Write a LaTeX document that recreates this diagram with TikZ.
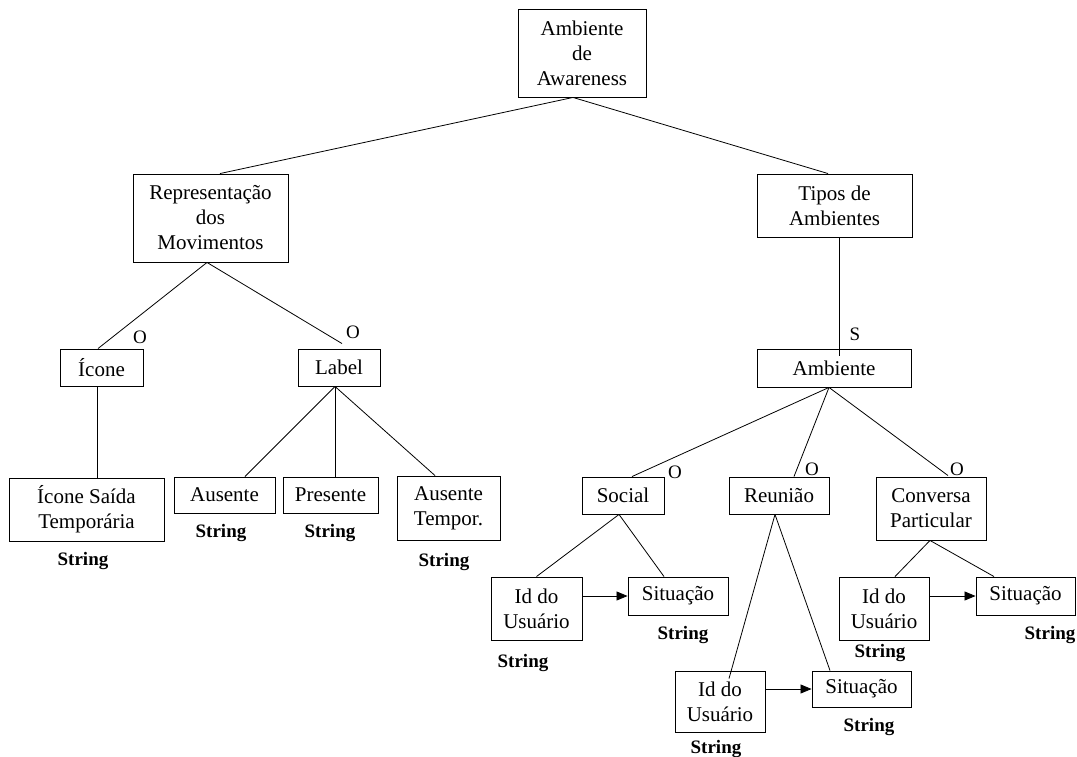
\documentclass[tikz,border=0pt]{standalone}
\usepackage{fontspec}
\setmainfont{Liberation Serif}
\usetikzlibrary{arrows.meta}
\begin{document}
\begin{tikzpicture}[x=1pt,y=-1pt,
  box/.style={draw=black, line width=0.9pt, inner sep=0pt, align=center,
    font=\fontsize{21}{25}\selectfont},
  link/.style={line width=0.8pt},
  flow/.style={line width=0.8pt, -{Triangle[length=11pt,width=9pt]}},
  tag/.style={font=\fontsize{19}{22}\selectfont, inner sep=0pt},
  strtag/.style={font=\fontsize{19}{22}\selectfont\bfseries, inner sep=0pt}]
\useasboundingbox (0,0) rectangle (1077,757);

% boxes
\node[box, minimum width=128pt, minimum height=88pt] (root) at (582,53) {Ambiente\\de\\Awareness};
\node[box, minimum width=155pt, minimum height=88pt] (rep) at (210.5,218) {Representação\\dos\\Movimentos};
\node[box, minimum width=155pt, minimum height=63pt] (tipos) at (834.5,205.5) {Tipos de\\Ambientes};
\node[box, minimum width=83pt, minimum height=37pt] (icone) at (101.5,367.5) {Ícone};
\node[box, minimum width=82pt, minimum height=37pt] (label) at (339,367.5) {Label};
\node[box, minimum width=154pt, minimum height=38pt] (amb) at (834,368) {Ambiente};
\node[box, minimum width=155pt, minimum height=63pt] (saida) at (86.5,509.5) {Ícone Saída\\Temporária};
\node[box, minimum width=101pt, minimum height=36pt] (aus) at (224.5,495) {Ausente};
\node[box, minimum width=95pt, minimum height=36pt] (pres) at (330.5,495) {Presente};
\node[box, minimum width=103pt, minimum height=64pt] (austemp) at (448.5,508) {Ausente\\Tempor.};
\node[box, minimum width=82pt, minimum height=37pt] (social) at (623,495.5) {Social};
\node[box, minimum width=100pt, minimum height=37pt] (reun) at (779,495.5) {Reunião};
\node[box, minimum width=110pt, minimum height=63pt] (conv) at (931,508.5) {Conversa\\Particular};
\node[box, minimum width=91pt, minimum height=63pt] (idS) at (536.5,608.5) {Id do\\Usuário};
\node[box, minimum width=100pt, minimum height=38pt] (sitS) at (678,596) {Situação};
\node[box, minimum width=90pt, minimum height=63pt] (idC) at (884,608.5) {Id do\\Usuário};
\node[box, minimum width=99pt, minimum height=38pt] (sitC) at (1025.5,596) {Situação};
\node[box, minimum width=90pt, minimum height=61pt] (idR) at (720,701.5) {Id do\\Usuário};
\node[box, minimum width=99pt, minimum height=36pt] (sitR) at (861.5,689) {Situação};

% tree links
\draw[link] ([xshift=-9pt]root.south) -- ([xshift=9.5pt]rep.north);
\draw[link] ([xshift=-9pt]root.south) -- ([xshift=-6.5pt]tipos.north);
\draw[link] ([xshift=-3.5pt]rep.south) -- ([xshift=-3.5pt]icone.north);
\draw[link] ([xshift=-3.5pt]rep.south) -- ([xshift=3pt,yshift=5pt]label.north);
\draw[link] ([xshift=-4.5pt]icone.south) -- ([xshift=10.5pt]saida.north);
\draw[link] ([xshift=-4pt]label.south) -- ([xshift=20.5pt]aus.north);
\draw[link] ([xshift=-4pt]label.south) -- ([xshift=4.5pt]pres.north);
\draw[link] ([xshift=-4pt]label.south) -- ([xshift=-13.5pt]austemp.north);
\draw[link] ([xshift=4.5pt]tipos.south) -- ([xshift=5pt,yshift=-7pt]amb.north);
\draw[link] ([xshift=-5pt]amb.south) -- ([xshift=9pt]social.north);
\draw[link] ([xshift=-5pt]amb.south) -- ([xshift=15pt]reun.north);
\draw[link] ([xshift=-5pt]amb.south) -- ([xshift=17pt,yshift=1pt]conv.north);
\draw[link] ([xshift=-4pt]social.south) -- (idS.north);
\draw[link] ([xshift=-4pt]social.south) -- ([xshift=-14pt]sitS.north);
\draw[link] ([xshift=-4pt]reun.south) -- ([xshift=9pt,yshift=-8pt]idR.north);
\draw[link] ([xshift=-4pt]reun.south) -- ([xshift=-31.5pt]sitR.north);
\draw[link] ([xshift=-1pt]conv.south) -- ([xshift=11pt]idC.north);
\draw[link] ([xshift=-1pt]conv.south) -- ([xshift=-31.5pt]sitC.north);

% value flows
\draw[flow] (idS.east |- sitS.west) -- (sitS.west);
\draw[flow] (idC.east |- sitC.west) -- (sitC.west);
\draw[flow] (idR.east |- sitR.west) -- (sitR.west);

% cardinality marks
\node[tag] (oIcone) at (140,337) {O};
\node[tag] (oLabel) at (353,332) {O};
\node[tag] (sAmb) at (855,334) {S};
\node[tag] (oSocial) at (675,472) {O};
\node[tag] (oReun) at (812,469) {O};
\node[tag] (oConv) at (957,469) {O};

% value types
\node[strtag] (tSaida) at (83,561) {String};
\node[strtag] (tAus) at (221,533) {String};
\node[strtag] (tPres) at (330,533) {String};
\node[strtag] (tAusTemp) at (444,562) {String};
\node[strtag] (tIdS) at (523,663) {String};
\node[strtag] (tSitS) at (683,635) {String};
\node[strtag] (tIdC) at (880,653) {String};
\node[strtag] (tSitC) at (1050,635) {String};
\node[strtag] (tSitR) at (869,727) {String};
\node[strtag] (tIdR) at (716,749) {String};
\end{tikzpicture}
\end{document}
